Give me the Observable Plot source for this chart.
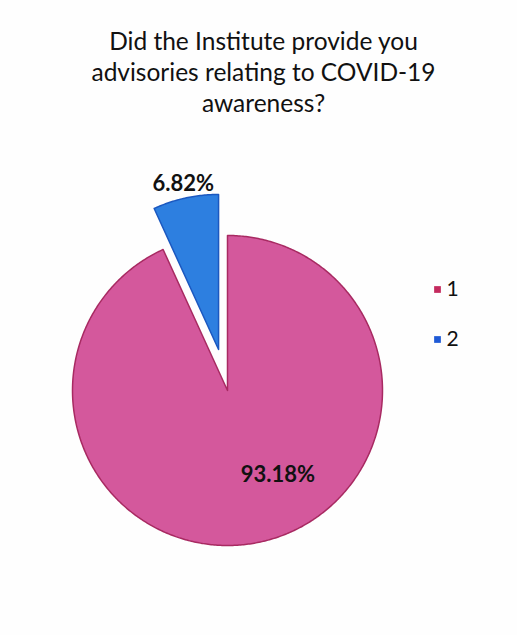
<!DOCTYPE html>
<html>
<head>
<meta charset="utf-8">
<script src="https://cdn.jsdelivr.net/npm/d3@7"></script>
<script src="https://cdn.jsdelivr.net/npm/@observablehq/plot@0.6"></script>
<style>
  html, body { margin: 0; padding: 0; background: #ffffff; }
  #wrap { width: 517px; height: 635px; overflow: hidden; background: #fefefe; }
  #title { height: 125px; box-sizing: border-box; padding-top: 25px; text-align: center;
           font-family: Lato, "Open Sans", sans-serif; font-size: 24.5px; line-height: 31px; color: #111111; padding-left: 10px; }
  svg { display: block; }
</style>
</head>
<body>
<div id="wrap">
  <div id="title">Did the Institute provide you<br>advisories relating to COVID-19<br>awareness?</div>
  <div id="chart"></div>
</div>
<script>
// ---- data ----
const categories = ["1", "2"];
const values = [93.18, 6.82];
const labels = ["93.18%", "6.82%"];
const fills = ["#d4589c", "#2d7fe0"];
const strokes = ["#a82a62", "#1b58c0"];
const legendFills = ["#c42a5e", "#1f5ad6"];

// ---- layout ----
const W = 517, H = 510;
const cx = 227, cy = 265, R = 155;
const explode = [0, 42];

const arcs = d3.pie().sort(null).startAngle(0).endAngle(2 * Math.PI)(values);

const polys = [];
arcs.forEach((a, i) => {
  const mid = (a.startAngle + a.endAngle) / 2;
  const ox = cx + explode[i] * Math.sin(mid);
  const oy = cy - explode[i] * Math.cos(mid);
  const pts = [{x: ox, y: oy}];
  const n = Math.max(4, Math.ceil((a.endAngle - a.startAngle) / 0.01));
  for (let k = 0; k <= n; k++) {
    const t = a.startAngle + (a.endAngle - a.startAngle) * k / n;
    pts.push({x: ox + R * Math.sin(t), y: oy - R * Math.cos(t)});
  }
  pts.push({x: ox, y: oy});
  pts.forEach(p => polys.push({...p, key: categories[i], fill: fills[i], stroke: strokes[i]}));
});

// label positions
const labelPos = arcs.map((a, i) => {
  const mid = (a.startAngle + a.endAngle) / 2;
  if (i === 0) {
    const r = 0.62 * R;
    return {x: cx + r * Math.sin(mid) + 30, y: cy - r * Math.cos(mid) - 9, text: labels[i], fill: "#111111"};
  } else {
    const r = 213;
    return {x: cx + r * Math.sin(mid) + 1, y: cy - r * Math.cos(mid) + 2, text: labels[i], fill: "#111111"};
  }
});

const legend = categories.map((c, i) => ({x: 437, y: 164 + i * 50, label: c, fill: legendFills[i]}));

const chart = Plot.plot({
  width: W, height: H,
  margin: 0,
  x: {domain: [0, W], range: [0, W], axis: null},
  y: {domain: [0, H], range: [0, H], axis: null},
  style: {background: "transparent", fontFamily: "Lato, 'Open Sans', sans-serif"},
  marks: [
    Plot.line(polys, {x: "x", y: "y", z: "key", fill: "fill", stroke: "stroke", strokeWidth: 1.5, curve: "linear"}),
    Plot.text(labelPos, {x: "x", y: "y", text: "text", fill: "fill", fontSize: 22, fontWeight: "bold"}),
    Plot.dot(legend, {x: "x", y: "y", symbol: "square", r: 3.8, fill: "fill", stroke: "none"}),
    Plot.text(legend, {x: "x", y: "y", text: "label", dx: 9, textAnchor: "start", fontSize: 21, fill: "#111111"})
  ]
});
document.getElementById("chart").appendChild(chart);
</script>
</body>
</html>
